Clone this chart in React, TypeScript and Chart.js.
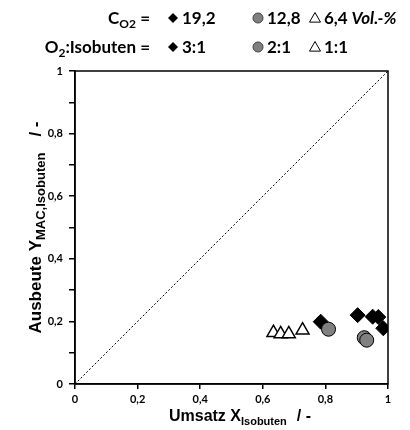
import React, { useEffect, useRef } from "react";
import { Chart, registerables } from "chart.js";

Chart.register(...registerables);

// Data
const diamondX = [0.785, 0.903, 0.951, 0.969, 0.985];
const diamondY = [0.199, 0.22, 0.215, 0.214, 0.178];
const circleX = [0.81, 0.924, 0.932];
const circleY = [0.175, 0.148, 0.14];
const triangleX = [0.634, 0.657, 0.683, 0.727];
const triangleY = [0.164, 0.16, 0.16, 0.172];
const diagonalX = [0, 1];
const diagonalY = [0, 1];

const legendConc = ["19,2", "12,8", "6,4"];
const legendRatio = ["3:1", "2:1", "1:1"];

const toPts = (xs: number[], ys: number[]) => xs.map((x, i) => ({ x, y: ys[i] }));

const fmt = (v: number) => {
  const r = Math.round(v * 10) / 10;
  return String(r).replace(".", ",");
};

type Part = { text: string; font: string; dy: number; gap?: number };

function richWidth(ctx: CanvasRenderingContext2D, parts: Part[]) {
  let w = 0;
  for (const p of parts) {
    ctx.font = p.font;
    w += (p.gap || 0) + ctx.measureText(p.text).width;
  }
  return w;
}

function drawRich(ctx: CanvasRenderingContext2D, parts: Part[], x: number, y: number) {
  let cx = x;
  ctx.textAlign = "left";
  ctx.textBaseline = "alphabetic";
  for (const p of parts) {
    ctx.font = p.font;
    cx += p.gap || 0;
    ctx.fillText(p.text, cx, y + p.dy);
    cx += ctx.measureText(p.text).width;
  }
}

function marker(ctx: CanvasRenderingContext2D, kind: string, x: number, y: number) {
  ctx.save();
  ctx.lineWidth = 1;
  ctx.strokeStyle = "#000";
  ctx.beginPath();
  if (kind === "diamond") {
    const r = 5;
    ctx.moveTo(x, y - r);
    ctx.lineTo(x + r, y);
    ctx.lineTo(x, y + r);
    ctx.lineTo(x - r, y);
    ctx.closePath();
    ctx.fillStyle = "#000";
    ctx.fill();
  } else if (kind === "circle") {
    ctx.arc(x, y, 5, 0, Math.PI * 2);
    ctx.fillStyle = "#808080";
    ctx.fill();
    ctx.strokeStyle = "#404040";
    ctx.stroke();
  } else {
    const r = 5.5;
    ctx.moveTo(x, y - r);
    ctx.lineTo(x + r, y + r * 0.75);
    ctx.lineTo(x - r, y + r * 0.75);
    ctx.closePath();
    ctx.fillStyle = "#fff";
    ctx.fill();
    ctx.stroke();
  }
  ctx.restore();
}

const decorPlugin = {
  id: "decor",
  afterDraw(chart: any) {
    const ctx: CanvasRenderingContext2D = chart.ctx;
    const a = chart.chartArea;
    ctx.save();
    // frame
    ctx.strokeStyle = "#000";
    ctx.lineWidth = 1.5;
    ctx.strokeRect(a.left, a.top, a.right - a.left, a.bottom - a.top);

    ctx.fillStyle = "#000";
    const big = "bold 16px 'Liberation Sans', Arial, sans-serif";
    const sub = "bold 11px 'Liberation Sans', Arial, sans-serif";
    const bigY = "bold 17px 'Liberation Sans', Arial, sans-serif";
    const subY = "bold 13px 'Liberation Sans', Arial, sans-serif";

    // x title
    const xParts: Part[] = [
      { text: "Umsatz X", font: big, dy: 0 },
      { text: "Isobuten", font: sub, dy: 4 },
      { text: "/ -", font: big, dy: 0, gap: 10 },
    ];
    const xw = richWidth(ctx, xParts);
    drawRich(ctx, xParts, 240 - xw / 2, 421);

    // y title
    const yParts: Part[] = [
      { text: "Ausbeute Y", font: bigY, dy: 0 },
      { text: "MAC,Isobuten", font: subY, dy: 4 },
      { text: "/ -", font: bigY, dy: 0, gap: 16 },
    ];
    const yw = richWidth(ctx, yParts);
    ctx.save();
    ctx.translate(41, (a.top + a.bottom) / 2);
    ctx.rotate(-Math.PI / 2);
    drawRich(ctx, yParts, -yw / 2, 0);
    ctx.restore();

    // legend
    const lf = "bold 17px Lato, 'Open Sans', sans-serif";
    const lfi = "italic bold 17px Lato, 'Open Sans', sans-serif";
    const ls = "bold 12px Lato, 'Open Sans', sans-serif";
    const rightEdge = 150;
    const row1 = 24;
    const row2 = 53;
    const r1: Part[] = [
      { text: "C", font: lf, dy: 0 },
      { text: "O2", font: ls, dy: 4 },
      { text: " =", font: lf, dy: 0 },
    ];
    drawRich(ctx, r1, rightEdge - richWidth(ctx, r1), row1);
    const r2: Part[] = [
      { text: "O", font: lf, dy: 0 },
      { text: "2", font: ls, dy: 4 },
      { text: ":Isobuten =", font: lf, dy: 0 },
    ];
    drawRich(ctx, r2, rightEdge - richWidth(ctx, r2), row2);

    const cols = [168, 253, 310];
    const kinds = ["diamond", "circle", "triangle"];
    cols.forEach((cx, i) => {
      marker(ctx, kinds[i], cx + 5, row1 - 6);
      marker(ctx, kinds[i], cx + 5, row2 - 6);
      const p1: Part[] = [{ text: legendConc[i], font: lf, dy: 0 }];
      if (i === 2) p1.push({ text: " Vol.-%", font: lfi, dy: 0 });
      drawRich(ctx, p1, cx + 14, row1);
      drawRich(ctx, [{ text: legendRatio[i], font: lf, dy: 0 }], cx + 14, row2);
    });
    ctx.restore();
  },
};

export default function App() {
  const ref = useRef<HTMLCanvasElement | null>(null);
  useEffect(() => {
    if (!ref.current) return;
    const tickFont = { family: "Lato, 'Open Sans', sans-serif", size: 11, weight: "bold" as const };
    const chart = new Chart(ref.current, {
      type: "scatter",
      data: {
        datasets: [
          {
            label: "12,8",
            data: toPts(circleX, circleY),
            pointStyle: "circle",
            pointRadius: 7,
            backgroundColor: "#808080",
            borderColor: "#000",
            borderWidth: 1,
            order: 0,
          },
          {
            label: "19,2",
            data: toPts(diamondX, diamondY),
            pointStyle: "rectRot",
            pointRadius: 7.5,
            backgroundColor: "#000",
            borderColor: "#000",
            borderWidth: 1,
            order: 1,
          },
          {
            label: "6,4",
            data: toPts(triangleX, triangleY),
            pointStyle: "triangle",
            pointRadius: 7.5,
            backgroundColor: "#fff",
            borderColor: "#000",
            borderWidth: 1.5,
            order: 2,
          },
          {
            label: "diag",
            data: toPts(diagonalX, diagonalY),
            showLine: true,
            pointRadius: 0,
            borderColor: "#000",
            borderWidth: 1,
            borderDash: [2, 2],
            order: 3,
          } as any,
        ],
      },
      options: {
        animation: false,
        responsive: false,
        layout: { padding: { top: 71, right: 22, left: 0, bottom: 0 } },
        plugins: { legend: { display: false }, tooltip: { enabled: false } },
        scales: {
          x: {
            type: "linear",
            min: 0,
            max: 1,
            afterFit: (s: any) => {
              s.height = 46;
            },
            ticks: {
              stepSize: 0.2,
              color: "#000",
              font: tickFont,
              padding: 4,
              maxRotation: 0,
              callback: (v: any) => fmt(Number(v)),
            },
            grid: { drawOnChartArea: false, tickLength: 5, color: "#000", lineWidth: 1.5 },
            border: { color: "#000", width: 1.5 },
          },
          y: {
            type: "linear",
            min: 0,
            max: 1,
            afterFit: (s: any) => {
              s.width = 75;
            },
            ticks: {
              stepSize: 0.1,
              autoSkip: false,
              color: "#000",
              font: tickFont,
              padding: 6,
              callback: (v: any) => {
                const k = Math.round(Number(v) * 10);
                return k % 2 === 0 ? fmt(Number(v)) : "";
              },
            },
            grid: { drawOnChartArea: false, tickLength: 6, color: "#000", lineWidth: 1.5 },
            border: { color: "#000", width: 1.5 },
          },
        },
      },
      plugins: [decorPlugin],
    });
    return () => chart.destroy();
  }, []);
  return (
    <div style={{ position: "fixed", left: 0, top: 0, width: 410, height: 430, background: "#fff" }}>
      <canvas ref={ref} width={410} height={430} style={{ width: 410, height: 430, display: "block" }} />
    </div>
  );
}
